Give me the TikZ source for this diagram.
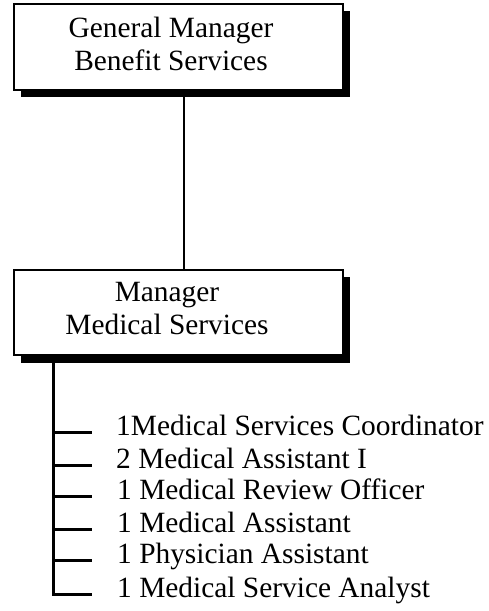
\documentclass[tikz,border=0pt]{standalone}
\usepackage{fontspec}
\setmainfont{Liberation Serif}
\usetikzlibrary{calc}
\tikzset{
  box/.style={draw=black, line width=2pt, fill=white, inner sep=0pt, minimum width=329pt, minimum height=86pt},
  shadowbox/.style={fill=black, draw=none, inner sep=0pt, minimum width=329pt, minimum height=86pt},
  boxtext/.style={align=center, inner sep=0pt, font=\fontsize{29.4}{33}\selectfont},
  item/.style={anchor=west, inner sep=0pt, text height=0.662em, text depth=0pt, font=\fontsize{29.4}{33}\selectfont},
  conn/.style={line width=1.5pt},
  trunk/.style={line width=3pt},
}
\begin{document}
\begin{tikzpicture}[x=1pt,y=-1pt]
\useasboundingbox (0,0) rectangle (489,611);
% box 1
\node[shadowbox] (gms) at (185.5,54) {};
\node[box] (gm) at (178.5,47) {};
\node[boxtext] (gmt) at (171,44) {General Manager\\Benefit Services};
% box 2
\node[shadowbox] (mms) at (185.5,319.5) {};
\node[box, minimum height=85pt] (mm) at (178.5,312.5) {};
\node[boxtext] (mmt) at (167,308.5) {Manager\\Medical Services};
\coordinate (c) at (184,0);
\draw[conn] (c |- gm.south) -- (c |- mm.north);
% items
\node[item] (t1) at (116,432) {1Medical Services Coordinator};
\node[item] (t2) at (116,465) {2 Medical Assistant I};
\node[item] (t3) at (117,496) {1 Medical Review Officer};
\node[item] (t4) at (117,529) {1 Medical Assistant};
\node[item] (t5) at (117,560) {1 Physician Assistant};
\node[item] (t6) at (117,594) {1 Medical Service Analyst};
\coordinate (tr) at (53,0);
\draw[trunk] (tr |- mms.south) -- (tr |- t6.west) -- ($(tr |- t6.west)+(39,0)$);
\foreach \t in {t1,t2,t3,t4,t5}{
  \draw[trunk] (tr |- \t.west) -- ($(tr |- \t.west)+(39,0)$);
}
\end{tikzpicture}
\end{document}
